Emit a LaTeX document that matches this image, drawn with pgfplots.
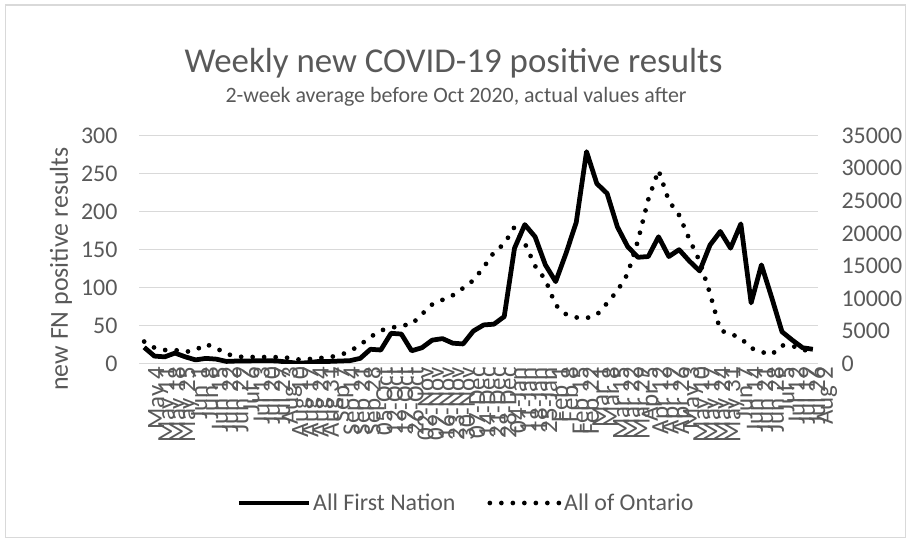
\documentclass[border=0pt]{standalone}
\usepackage{fontspec}
\setmainfont{Carlito}
\usepackage{pgfplots}
\pgfplotsset{compat=1.18}
\usepackage{pgfplotstable}

\definecolor{txt}{HTML}{595959}
\definecolor{gridc}{HTML}{D9D9D9}

% week index, First Nation positives, Ontario positives
\pgfplotstableread{
i  fn    on
0  21.5  3400
1  10    2450
2  9     2100
3  14    2100
4  9     1800
5  5     2100
6  7     3000
7  6     2400
8  3     1500
9  3.5   1100
10 3.5   1000
11 4     1050
12 4     1000
13 3.5   1000
14 2     900
15 0.5   650
16 1.5   700
17 3     850
18 3     1000
19 3.5   1300
20 4     1900
21 7     2900
22 19    4100
23 18    5100
24 40    5500
25 39    5850
26 17    6050
27 21    7600
28 31    9100
29 33    9800
30 27    10500
31 26    11600
32 43    12800
33 51    14800
34 52    17100
35 62    18400
36 152   21000
37 183   18500
38 167   15000
39 130   12900
40 108   9000
41 145   7600
42 186   7100
43 279   7000
44 237   7500
45 224   9300
46 180   11200
47 154   13800
48 140   18900
49 141   25200
50 167   29700
51 141   25000
52 150   22800
53 135   19100
54 122   15700
55 156   10800
56 174   5100
57 152   4600
58 184   3900
59 80    2400
60 130   1800
61 87    1400
62 42    2800
63 31    2750
64 21    2100
65 19    2000
}\weekly

\begin{document}
\begin{tikzpicture}[x=1bp,y=1bp]
\path[use as bounding box] (0,0) rectangle (908,540);
\draw[gridc, line width=1.2bp] (5.5,2.5) rectangle (905.5,535);

\node[text=txt, font=\fontsize{35}{40}\selectfont, anchor=base] at (453.5,467) {Weekly new COVID-19 positive results};
\node[text=txt, font=\fontsize{22}{26}\selectfont, anchor=base] at (456,437) {2-week average before Oct 2020, actual values after};

\begin{axis}[
  at={(139bp,176.3bp)}, anchor=south west,
  scale only axis, width=679bp, height=228bp,
  xmin=-0.5, xmax=65.5, ymin=0, ymax=300,
  axis line style={draw=none}, tick style={draw=none},
  ymajorgrids, grid style={gridc, line width=1.3bp},
  ytick={0,50,...,300},
  yticklabel style={font=\fontsize{24}{28}\selectfont, text=txt,
    /pgf/number format/assume math mode=true, xshift=-18bp},
  xtick={0,...,65},
  xticklabels={May 4,May 11,May 18,May 25,Jun 1,Jun 8,Jun 15,Jun 22,Jun 29,
    Jul 6,Jul 13,Jul 20,Jul 27,Aug 3,Aug 10,Aug 17,Aug 24,Aug 31,Sep 7,Sep 14,
    Sep 21,Sep 28,05-Oct,12-Oct,19-Oct,26-Oct,02-Nov,09-Nov,16-Nov,23-Nov,
    30-Nov,07-Dec,14-Dec,21-Dec,28-Dec,04-Jan,11-Jan,18-Jan,25-Jan,Feb 1,
    Feb 8,Feb 15,Feb 22,Mar 1,Mar 8,Mar 15,Mar 22,Mar 29,Apr 5,Apr 12,Apr 19,
    Apr 26,May 3,May 10,May 17,May 24,May 31,Jun 7,Jun 14,Jun 21,Jun 28,
    Jul 5,Jul 12,Jul 19,Jul 26,Aug 2},
  xticklabel style={rotate=90, anchor=east, font=\fontsize{25}{29}\selectfont,
    text=txt, yshift=-14bp},
  ylabel={new FN positive results},
  ylabel style={font=\fontsize{26}{30}\selectfont, text=txt,
    at={(axis description cs:-0.115,0.415)}, anchor=center},
]
\addplot[black, line width=4.75bp, line join=round] table[x=i, y=fn] {\weekly};
\end{axis}

\begin{axis}[
  at={(139bp,176.3bp)}, anchor=south west,
  scale only axis, width=679bp, height=228bp,
  xmin=-0.5, xmax=65.5, ymin=0, ymax=35000,
  axis line style={draw=none}, tick style={draw=none},
  xtick=\empty,
  ytick={0,5000,...,35000}, yticklabel pos=right,
  scaled y ticks=false,
  yticklabel style={font=\fontsize{24}{28}\selectfont, text=txt,
    /pgf/number format/fixed, /pgf/number format/1000 sep={},
    /pgf/number format/assume math mode=true, xshift=20bp},
  legend columns=2,
  legend style={at={(axis description cs:0.4816,-0.611)}, anchor=center,
    draw=none, fill=none, font=\fontsize{24}{28}\selectfont, text=txt,
    /tikz/every even column/.append style={column sep=30bp}},
  legend image code/.code={\draw[#1] (0bp,0bp) -- (70bp,0bp);},
]
\addlegendimage{black, line width=4.75bp}
\addlegendentry{All First Nation}
\addplot[black, line width=4.75bp, line cap=round, dash pattern=on 0bp off 11.5bp]
  table[x=i, y=on] {\weekly};
\addlegendentry{All of Ontario}
\end{axis}
\end{tikzpicture}
\end{document}
